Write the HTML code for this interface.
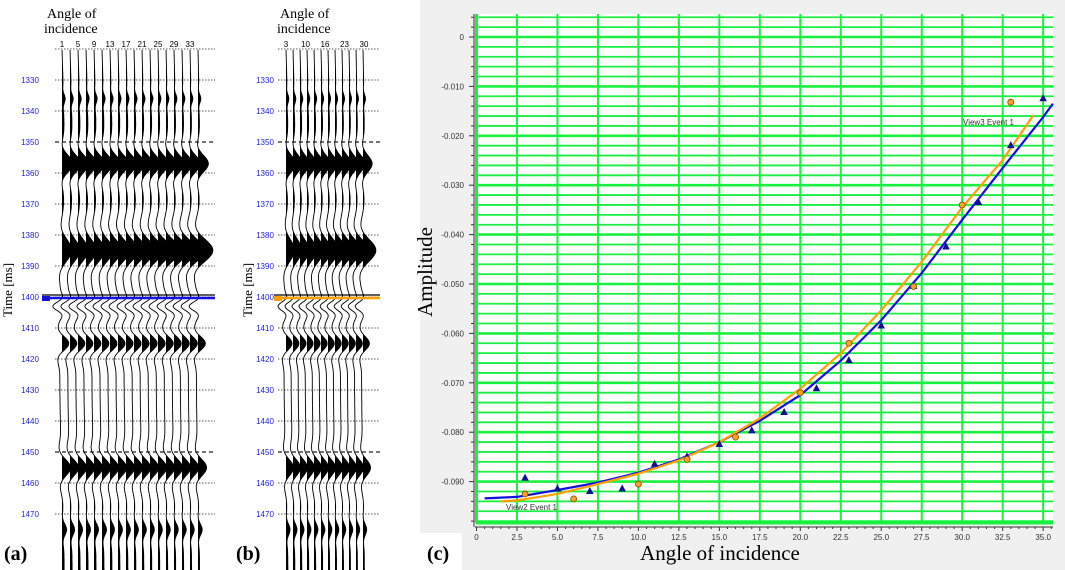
<!DOCTYPE html>
<html><head><meta charset="utf-8"><style>
html,body{margin:0;padding:0;background:#fff;}
svg{display:block;font-family:"Liberation Sans",sans-serif;}
.serif{font-family:"Liberation Serif",serif;}
</style></head><body>
<svg id="fig" width="1065" height="570" viewBox="0 0 1065 570">
<rect x="0" y="0" width="1065" height="570" fill="#fff"/>
<g id="panelA"></g>
<g id="panelB"></g>
<g id="panelC">
<rect x="420" y="0" width="645" height="570" fill="#f0f0f0"/>
<rect x="420" y="533" width="42" height="37" fill="#fff"/>
<rect x="476" y="14" width="577" height="509" fill="#fff"/>
<g id="grid"></g><g id="axes"></g><g id="curves"></g><g id="marks"></g>
<text x="963" y="125" font-size="8" fill="#333">View3 Event 1</text>
<text x="506" y="510" font-size="8" fill="#333">View2 Event 1</text>
<text class="serif" x="432" y="272" font-size="21" text-anchor="middle" transform="rotate(-90 432 272)">Amplitude</text>
<text class="serif" x="720" y="560" font-size="21" text-anchor="middle">Angle of incidence</text>
<text class="serif" x="427" y="560" font-size="20" font-weight="bold">(c)</text>
</g>
<text class="serif" x="4" y="560" font-size="20" font-weight="bold">(a)</text>
<text class="serif" x="236" y="560" font-size="20" font-weight="bold">(b)</text>
</svg>
<script>
// ---- Panel c data ----
const xTicks = [0,2.5,5,7.5,10,12.5,15,17.5,20,22.5,25,27.5,30,32.5,35];
const yTicks = [0,-0.01,-0.02,-0.03,-0.04,-0.05,-0.06,-0.07,-0.08,-0.09];
const yTickLabels = ["0","-0.010","-0.020","-0.030","-0.040","-0.050","-0.060","-0.070","-0.080","-0.090"];
const triAngles = [3,5,7,9,11,13,15,17,19,21,23,25,27,29,31,33,35];
const triAmps = [-0.0893,-0.0915,-0.0920,-0.0915,-0.0865,-0.0850,-0.0825,-0.0797,-0.0760,-0.0712,-0.0655,-0.0585,-0.0505,-0.0425,-0.0335,-0.0220,-0.0125];
const dotAngles = [3,6,10,13,16,20,23,27,30,33];
const dotAmps = [-0.0925,-0.0935,-0.0905,-0.0855,-0.0810,-0.0720,-0.0620,-0.0505,-0.0340,-0.0132];
const blueX = [0.5,2.5,5,7.5,10,12.5,15,17.5,20,22.5,25,27.5,30,32.5,35,35.6];
const blueY = [-0.0934,-0.0931,-0.0917,-0.0902,-0.0882,-0.0855,-0.0820,-0.0777,-0.0725,-0.0655,-0.0573,-0.0478,-0.0370,-0.0265,-0.0162,-0.0135];
const orangeX = [1.5,2.5,5,7.5,10,12.5,15,17.5,20,22.5,25,27.5,30,32.5,34.4];
const orangeY = [-0.0940,-0.0938,-0.0925,-0.0905,-0.0884,-0.0857,-0.0820,-0.0772,-0.0712,-0.0640,-0.0553,-0.0455,-0.0345,-0.0249,-0.0158];

const NS="http://www.w3.org/2000/svg";
function mk(tag,attrs,parent){const e=document.createElementNS(NS,tag);for(const k in attrs)e.setAttribute(k,attrs[k]);parent.appendChild(e);return e;}
const X0=476,Y0=14,X1=1053,Y1=523;
const sx=v=>476.5+v*16.19;
const sy=v=>37-v*4940;
const grid=document.getElementById('grid'),axes=document.getElementById('axes'),curves=document.getElementById('curves'),marks=document.getElementById('marks');
for(let i=-49;i<=2;i++){const v=i*0.002;const y=sy(v);if(y<Y0||y>Y1)continue;
 const l=mk('line',{x1:X0,x2:X1,y1:y,y2:y,stroke:'#19f040','stroke-width':(i%5===0)?2.6:1.8},grid);
 
 }
xTicks.forEach(t=>{const x=sx(t);
 const l=mk('line',{x1:x,x2:x,y1:Y0,y2:Y1,stroke:'#19f040','stroke-width':(t===0)?3:2},grid);
 
 
 const tx=mk('text',{x:x,y:Y1+17,'font-size':8,'text-anchor':'middle',fill:'#333'},axes);tx.textContent=(t===0)?'0':t.toFixed(1);
 
 });
mk('line',{x1:X0,x2:X1,y1:Y1,y2:Y1,stroke:'#19f040','stroke-width':3},grid);
mk('line',{x1:X0-1,x2:X1,y1:Y1+4,y2:Y1+4,stroke:'#333','stroke-width':1},axes);
mk('line',{x1:X0-2,x2:X0-2,y1:Y0,y2:Y1+4,stroke:'#333','stroke-width':1},axes);
for(let i=0;i<=71;i++){const x=sx(i*0.5);if(x>X1)break;mk('line',{x1:x,x2:x,y1:Y1+4,y2:Y1+(i%5===0?8:6),stroke:'#333'},axes);}
for(let i=-49;i<=2;i++){const y=sy(i*0.002);if(y<Y0||y>Y1)continue;mk('line',{x1:X0-2,x2:X0-(i%5===0?7:5),y1:y,y2:y,stroke:'#333'},axes);}
yTicks.forEach((t,i)=>{const tx=mk('text',{x:X0-12,y:sy(t)+3,'font-size':8,'text-anchor':'end',fill:'#333'},axes);tx.textContent=yTickLabels[i];
 
 });
function pathFrom(xs,ys){return xs.map((v,i)=>(i?'L':'M')+sx(v).toFixed(1)+' '+sy(ys[i]).toFixed(1)).join(' ');}
const bl=mk('path',{d:pathFrom(blueX,blueY),fill:'none',stroke:'#1010e0','stroke-width':2.2},curves);


const ol=mk('path',{d:pathFrom(orangeX,orangeY),fill:'none',stroke:'#ffa000','stroke-width':2.2},curves);


triAngles.forEach((a,i)=>{const x=sx(a),y=sy(triAmps[i]);
 const p=mk('polygon',{points:`${x},${y-4.5} ${x-3.8},${y+2.5} ${x+3.8},${y+2.5}`,fill:'#101090'},marks);
 
 });
dotAngles.forEach((a,i)=>{const c=mk('circle',{cx:sx(a),cy:sy(dotAmps[i]),r:3,fill:'#ffa020',stroke:'#805000','stroke-width':0.8},marks);
 
 });

// ---- Seismic panels (a) and (b) ----
const eventTimes=[1336,1357,1385,1403,1415,1455,1475];
const eventAmps=[0.2,1.0,1.3,-0.9,1.0,1.0,0.35];
const eventWidths=[3,6,8,3,5,6,4];
const labelsA=["1","5","9","13","17","21","25","29","33"];
const labelsB=["3","10","16","23","30"];
const timeLabels=[1330,1340,1350,1360,1370,1380,1390,1400,1410,1420,1430,1440,1450,1460,1470];
const ty=t=>80+(t-1330)*3.1;
function wig(t,k,n){let s=0.25*Math.sin((t-1320)/22)*(1-0.3*k/n);
 for(let j=0;j<eventTimes.length;j++){const d=(t-eventTimes[j])/eventWidths[j];let a=eventAmps[j];if(j===2)a*=0.8+0.5*k/n;
  s+=a*Math.exp(-d*d)*Math.cos(d*2.2);}return s;}
function drawPanel(g,opts){
 const gl=document.getElementById(g);
 timeLabels.concat([1320]).forEach(t=>{const y=ty(t);const dash=(t===1350||t===1450);
  mk('line',{x1:opts.lx0,x2:opts.lx1,y1:y,y2:y,stroke:'#222','stroke-width':dash?1.2:0.7,'stroke-dasharray':dash?'4,3':'1.5,1.5'},gl);
  if(t>=1330){const tx=mk('text',{x:opts.tlx,y:y+3,'font-size':8,'text-anchor':'middle',fill:'#2020e0'},gl);tx.textContent=t;
  
  }});
 const n=opts.n;
 for(let k=0;k<n;k++){const x0=opts.x0+k*opts.dx;
  let pts=[];for(let y=50;y<=570;y+=1){const t=1330+(y-80)/3.1;pts.push([x0+opts.dx*1.1*wig(t,k,n),y]);}
  const line='M'+pts.map(p=>p[0].toFixed(1)+' '+p[1]).join(' L');
  const fill='M'+x0+' 50 L'+pts.map(p=>Math.max(x0,p[0]).toFixed(1)+' '+p[1]).join(' L')+' L'+x0+' 570 Z';
  const f=mk('path',{d:fill,fill:'#000'},gl);
  
  
  const w=mk('path',{d:line,fill:'none',stroke:'#000','stroke-width':0.9},gl);
  
  }
 opts.labels.forEach((s,i)=>{const tx=mk('text',{x:opts.x0+i*opts.labStep,y:47,'font-size':8,'text-anchor':'middle',fill:'#000'},gl);tx.textContent=s;
  
  });
 const h1=mk('text',{x:opts.hx,y:18,'font-size':14,class:'serif'},gl);h1.textContent='Angle of';
 const h2=mk('text',{x:opts.hx-3,y:33,'font-size':14,class:'serif'},gl);h2.textContent='incidence';
 const yt=mk('text',{x:opts.ytx,y:290,'font-size':13,class:'serif','text-anchor':'middle',transform:`rotate(-90 ${opts.ytx} 290)`},gl);yt.textContent='Time [ms]';
 
 
 mk('line',{x1:opts.hlx0,x2:opts.lx1,y1:ty(1400)-2,y2:ty(1400)-2,stroke:'#000','stroke-width':1.2},gl);
 const hl=mk('line',{x1:opts.hlx0,x2:opts.lx1,y1:ty(1400)+1,y2:ty(1400)+1,stroke:opts.color,'stroke-width':2.5},gl);
 
 
 mk('rect',{x:opts.hlx0,y:ty(1400)-1,width:8,height:5,fill:opts.color},gl);
}
drawPanel('panelA',{n:18,x0:62,dx:8,labels:labelsA,labStep:16,lx0:55,lx1:215,tlx:30,hx:47,ytx:12,hlx0:42,color:'#1010e0'});
drawPanel('panelB',{n:12,x0:286,dx:7,labels:labelsB,labStep:19.5,lx0:278,lx1:380,tlx:265,hx:280,ytx:252,hlx0:274,color:'#ffa000'});
</script>
</body></html>
